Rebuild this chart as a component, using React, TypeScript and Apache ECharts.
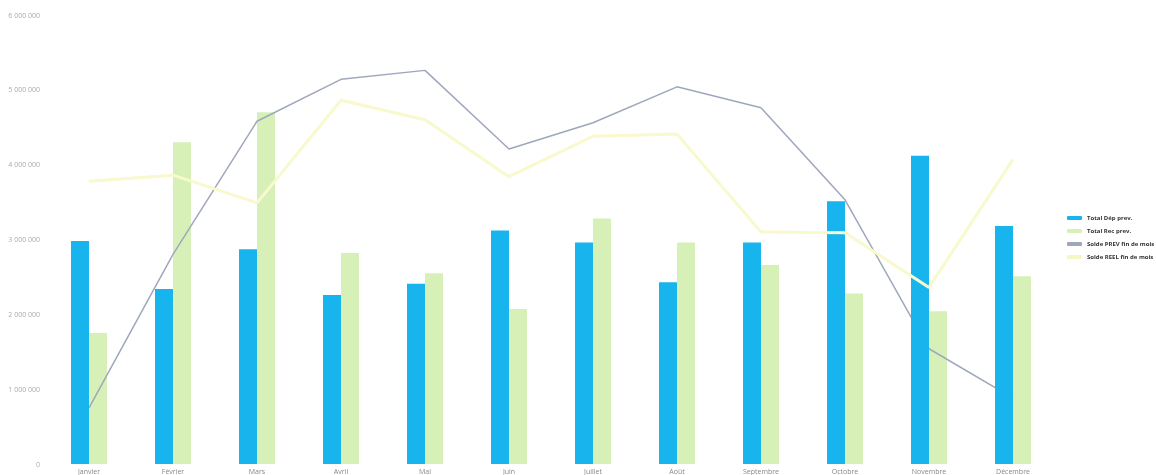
import React, { useEffect, useRef } from "react";
import * as echarts from "echarts";

const months = ["Janvier", "Février", "Mars", "Avril", "Mai", "Juin", "Juillet", "Août", "Septembre", "Octobre", "Novembre", "Décembre"];
const depPrev = [2980000, 2340000, 2870000, 2260000, 2410000, 3120000, 2960000, 2430000, 2960000, 3510000, 4120000, 3180000];
const recPrev = [1750000, 4300000, 4700000, 2820000, 2550000, 2070000, 3280000, 2960000, 2660000, 2280000, 2040000, 2510000];
const soldePrev = [750000, 2800000, 4580000, 5140000, 5260000, 4210000, 4560000, 5040000, 4760000, 3530000, 1540000, 880000];
const soldeReel = [3780000, 3860000, 3490000, 4860000, 4600000, 3840000, 4380000, 4408402, 3100000, 3090000, 2360000, 4070000];
const labelledIndex = 7;
const seriesNames = ["Total Dép prev.", "Total Rec prev.", "Solde PREV fin de mois", "Solde REEL fin de mois"];

const fmt = (v: number) => String(Math.round(v)).replace(/\B(?=(\d{3})+(?!\d))/g, " ");

export default function App() {
  const ref = useRef<HTMLDivElement>(null);
  useEffect(() => {
    if (!ref.current) return;
    const chart = echarts.init(ref.current, null, { renderer: "svg" });
    const font = "'Open Sans', 'Noto Sans', sans-serif";
    chart.setOption({
      animation: false,
      textStyle: { fontFamily: font },
      grid: { left: 47, right: 101, top: 15, bottom: 6, containLabel: false },
      legend: {
        orient: "vertical",
        left: 1062,
        top: 210,
        itemWidth: 15,
        itemHeight: 4,
        itemGap: 7,
        textStyle: { fontSize: 6, fontWeight: "bold", color: "#333", fontFamily: font },
        data: seriesNames.map((n) => ({ name: n, icon: "roundRect" })),
      },
      xAxis: {
        type: "category",
        data: months,
        axisLine: { show: false },
        axisTick: { show: false },
        axisLabel: { fontSize: 7, color: "#888", margin: 4 },
      },
      yAxis: {
        type: "value",
        min: 0,
        max: 6000000,
        interval: 1000000,
        splitLine: { show: false },
        axisLine: { show: false },
        axisTick: { show: false },
        axisLabel: { fontSize: 7, color: "#aaa", margin: 7, formatter: (v: number) => fmt(v) },
      },
      series: [
        {
          name: seriesNames[0],
          type: "bar",
          data: depPrev,
          barWidth: 18,
          barGap: "0%",
          z: 4,
          itemStyle: { color: "#17b4ee" },
        },
        {
          name: seriesNames[1],
          type: "bar",
          data: recPrev,
          barWidth: 18,
          barGap: "0%",
          z: 1,
          itemStyle: { color: "#d6f0b8" },
        },
        {
          name: seriesNames[2],
          type: "line",
          data: soldePrev,
          showSymbol: false,
          symbol: "none",
          z: 3,
          lineStyle: { color: "#9fa7bd", width: 1.5 },
          itemStyle: { color: "#9fa7bd" },
        },
        {
          name: seriesNames[3],
          type: "line",
          showSymbol: false,
          symbol: "none",
          z: 5,
          lineStyle: { color: "#f8f9cc", width: 3 },
          itemStyle: { color: "#f6f8c4" },
          data: soldeReel.map((v, i) =>
            i === labelledIndex
              ? {
                  value: v,
                  label: {
                    show: true,
                    position: "right",
                    distance: 9,
                    fontSize: 7,
                    fontWeight: "bold",
                    color: "#222",
                    formatter: (p: any) => fmt(p.value),
                  },
                }
              : v
          ),
        },
      ],
    });
    return () => chart.dispose();
  }, []);
  return <div ref={ref} style={{ position: "fixed", left: 0, top: 0, width: 1156, height: 475 }} />;
}
